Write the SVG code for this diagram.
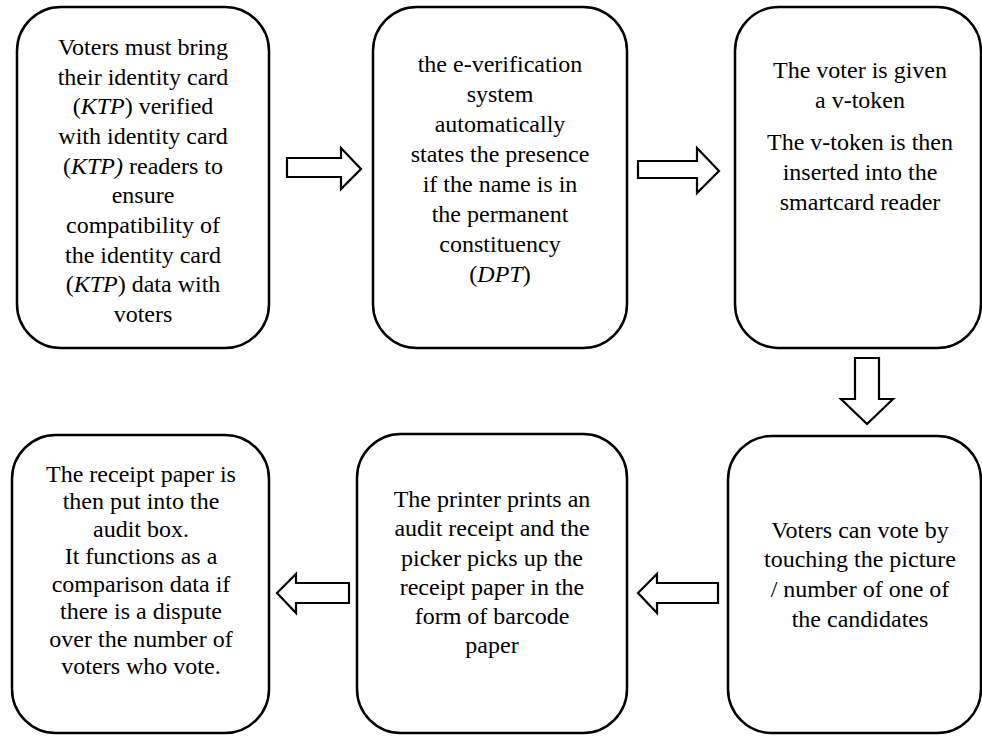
<svg xmlns="http://www.w3.org/2000/svg" width="982" height="736" viewBox="0 0 982 736">
<style>
.box{fill:#fff;stroke:#000;stroke-width:2.5}
.arr{fill:#fff;stroke:#000;stroke-width:2.2;stroke-linejoin:miter}
text{font-family:"Liberation Serif","Times New Roman",serif;font-size:24px;fill:#000;text-anchor:middle}
.i{font-style:italic}
</style>
<rect width="982" height="736" fill="#fff"/>
<g id="connectors">
<polygon class="arr" points="287,158 341,158 341,148 361,169 341,189 341,177 287,177"/>
<polygon class="arr" points="638,161 697,161 697,148 719,171 697,193 697,178 638,178"/>
<polygon class="arr" points="855,358 879,358 879,399 893,399 867,424 841,399 855,399"/>
<polygon class="arr" points="718,583 657,583 657,574 638,593 657,613 657,603 718,603"/>
<polygon class="arr" points="349,583 296,583 296,574 277,593 296,613 296,603 349,603"/>
</g>
<g id="n1">
<rect class="box" x="17" y="7" width="252" height="341" rx="44"/>
<text x="143" y="55">Voters must bring</text>
<text x="143" y="84.7">their identity card</text>
<text x="143" y="114.3">(<tspan class="i">KTP</tspan>) verified</text>
<text x="143" y="144">with identity card</text>
<text x="143" y="173.7">(<tspan class="i">KTP)</tspan> readers to</text>
<text x="143" y="203.3">ensure</text>
<text x="143" y="233">compatibility of</text>
<text x="143" y="262.7">the identity card</text>
<text x="143" y="292.3">(<tspan class="i">KTP</tspan>) data with</text>
<text x="143" y="322">voters</text>
</g>
<g id="n2">
<rect class="box" x="373" y="7" width="254" height="341" rx="44"/>
<text x="500" y="72">the e-verification</text>
<text x="500" y="102">system</text>
<text x="500" y="132">automatically</text>
<text x="500" y="162">states the presence</text>
<text x="500" y="192">if the name is in</text>
<text x="500" y="222">the permanent</text>
<text x="500" y="252">constituency</text>
<text x="500" y="282">(<tspan class="i">DPT</tspan>)</text>
</g>
<g id="n3">
<rect class="box" x="735" y="7" width="246" height="341" rx="44"/>
<text x="860" y="78">The voter is given</text>
<text x="860" y="108">a v-token</text>
<text x="860" y="150">The v-token is then</text>
<text x="860" y="180">inserted into the</text>
<text x="860" y="210">smartcard reader</text>
</g>
<g id="n4">
<rect class="box" x="728" y="436" width="253" height="297" rx="44"/>
<text x="860" y="538">Voters can vote by</text>
<text x="860" y="567">touching the picture</text>
<text x="860" y="597">/ number of one of</text>
<text x="860" y="627">the candidates</text>
</g>
<g id="n5">
<rect class="box" x="357" y="434" width="270" height="299" rx="44"/>
<text x="492" y="507">The printer prints an</text>
<text x="492" y="536">audit receipt and the</text>
<text x="492" y="565.5">picker picks up the</text>
<text x="492" y="594.5">receipt paper in the</text>
<text x="492" y="623.5">form of barcode</text>
<text x="492" y="653">paper</text>
</g>
<g id="n6">
<rect class="box" x="12" y="435" width="257" height="298" rx="44"/>
<text x="141" y="482">The receipt paper is</text>
<text x="141" y="509">then put into the</text>
<text x="141" y="537">audit box.</text>
<text x="141" y="564">It functions as a</text>
<text x="141" y="592">comparison data if</text>
<text x="141" y="619">there is a dispute</text>
<text x="141" y="647">over the number of</text>
<text x="141" y="674">voters who vote.</text>
</g>
</svg>
